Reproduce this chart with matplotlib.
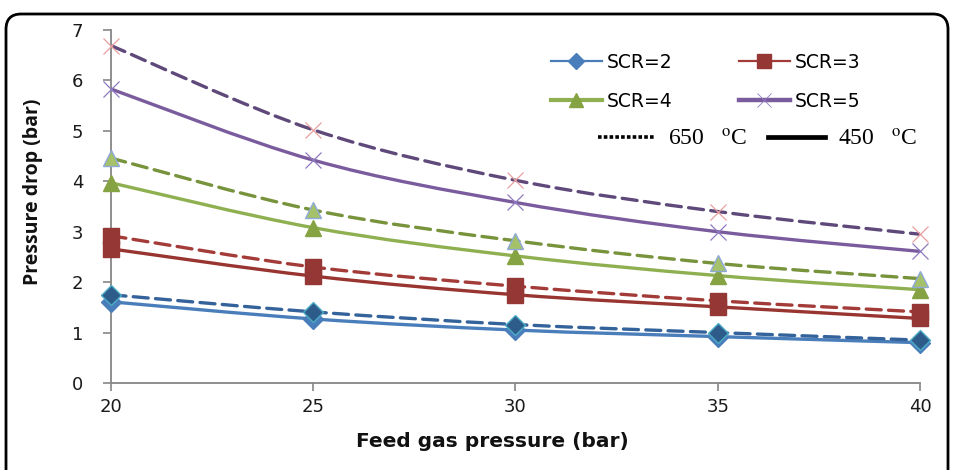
import matplotlib
matplotlib.use("Agg")
import matplotlib.pyplot as plt
from matplotlib.lines import Line2D
from matplotlib.patches import FancyBboxPatch, PathPatch
from matplotlib.path import Path

plt.rcParams["mathtext.fontset"] = "stix"

# Feed gas pressure (bar)
feed_pressure = [20, 25, 30, 35, 40]

# Pressure drop (bar) at 650 °C
scr2_650 = [1.75, 1.41, 1.16, 1.00, 0.85]
scr3_650 = [2.92, 2.30, 1.92, 1.63, 1.41]
scr4_650 = [4.46, 3.43, 2.82, 2.37, 2.07]
scr5_650 = [6.69, 5.02, 4.02, 3.40, 2.95]

# Pressure drop (bar) at 450 °C
scr2_450 = [1.61, 1.27, 1.05, 0.92, 0.80]
scr3_450 = [2.66, 2.12, 1.75, 1.51, 1.28]
scr4_450 = [3.97, 3.08, 2.52, 2.13, 1.85]
scr5_450 = [5.83, 4.42, 3.58, 3.00, 2.61]

y_ticks = [0, 1, 2, 3, 4, 5, 6, 7]
x_ticks = [20, 25, 30, 35, 40]

W, H = 954, 470
fig = plt.figure(figsize=(W / 100, H / 100), dpi=100)
ax = fig.add_axes([111 / W, 1 - 383 / H, (920 - 111) / W, (383 - 30) / H])


def smooth_path(xs, ys):
    """Cubic Bezier path through the points (spreadsheet-style smoothed line)."""
    pts = list(zip(xs, ys))
    n = len(pts)
    verts = [pts[0]]
    codes = [Path.MOVETO]
    for i in range(n - 1):
        p0 = pts[i - 1] if i > 0 else pts[i]
        p1 = pts[i]
        p2 = pts[i + 1]
        p3 = pts[i + 2] if i + 2 < n else pts[i + 1]
        c1 = (p1[0] + (p2[0] - p0[0]) / 6, p1[1] + (p2[1] - p0[1]) / 6)
        c2 = (p2[0] - (p3[0] - p1[0]) / 6, p2[1] - (p3[1] - p1[1]) / 6)
        verts += [c1, c2, p2]
        codes += [Path.CURVE4] * 3
    return Path(verts, codes)


dash = (0, (4.5, 2.2))
lw = 2.4
ms = 12

# (values, line colour, marker, marker face, marker edge, linestyle)
series = [
    (scr2_450, "#4A7EBB", "D", "#4A7EBB", "#4A7EBB", "-"),
    (scr2_650, "#34629A", "D", "#2E5C8A", "#4BACC6", dash),
    (scr3_450, "#983531", "s", "#953735", "#953735", "-"),
    (scr3_650, "#A33C38", "s", "#953735", "#953735", dash),
    (scr4_450, "#8FB051", "^", "#86A343", "#86A343", "-"),
    (scr4_650, "#77933C", "^", "#A5C26A", "#8EA9D8", dash),
    (scr5_450, "#7A5C9E", "x", "#8064A2", "#8F7AC0", "-"),
    (scr5_650, "#5F497A", "x", "#E8A0A0", "#E8A0A0", dash),
]

for vals, col, mk, mfc, mec, ls in series:
    ax.add_patch(PathPatch(smooth_path(feed_pressure, vals), fill=False,
                           edgecolor=col, lw=lw, linestyle=ls,
                           capstyle="round", zorder=2))
    if mk == "x":
        ax.plot(feed_pressure, vals, linestyle="none", marker=mk, ms=ms,
                mew=0.9, color=mec, zorder=3, clip_on=False)
    else:
        ax.plot(feed_pressure, vals, linestyle="none", marker=mk,
                ms=ms if mk != "D" else 10, mfc=mfc, mec=mec, mew=1.0,
                zorder=3, clip_on=False)

ax.set_xlim(20, 40)
ax.set_ylim(0, 7)
ax.set_xticks(x_ticks)
ax.set_yticks(y_ticks)
ax.tick_params(axis="both", direction="out", length=6, width=1.2,
               color="#868686", labelsize=13, labelcolor="#1a1a1a")
ax.tick_params(axis="x", pad=5)
ax.tick_params(axis="y", pad=14)
for s in ("top", "right"):
    ax.spines[s].set_visible(False)
for s in ("left", "bottom"):
    ax.spines[s].set_color("#868686")
    ax.spines[s].set_linewidth(1.3)

ax.set_xlabel("Feed gas pressure (bar)", fontsize=14.5, fontweight="bold",
              family="DejaVu Sans", color="#111111")
ax.xaxis.set_label_coords((492 - 111) / (920 - 111), -49 / 353)
ax.set_ylabel("Pressure drop (bar)", fontsize=14, fontweight="bold",
              family="Open Sans", color="#111111")
ax.yaxis.set_label_coords(-(111 - 43) / 809, (383 - 192) / 353)


def fig_pt(px, py):
    return (px / W, 1 - py / H)


# Series legend, one legend per column
col_a = [
    (Line2D([], [], color="#4A7EBB", lw=1.6, marker="D", ms=8,
            mfc="#4A7EBB", mec="#4A7EBB"), "SCR=2"),
    (Line2D([], [], color="#8FB051", lw=3.0, marker="^", ms=10,
            mfc="#86A343", mec="#86A343"), "SCR=4"),
]
col_b = [
    (Line2D([], [], color="#A33C38", lw=1.6, marker="s", ms=10,
            mfc="#953735", mec="#953735"), "SCR=3"),
    (Line2D([], [], color="#7A5C9E", lw=3.2, marker="x", ms=10, mew=0.6,
            mec="#8F7AC0"), "SCR=5"),
]
for entries, x0 in ((col_a, 551), (col_b, 739)):
    fig.legend([e[0] for e in entries], [e[1] for e in entries],
               loc="upper left", bbox_to_anchor=fig_pt(x0, 53),
               bbox_transform=fig.transFigure, frameon=False,
               fontsize=13.5, handlelength=2.7, handletextpad=0.3,
               labelspacing=1.05, borderpad=0, borderaxespad=0)

# Temperature legend
temp_entries = [
    (Line2D([], [], color="black", lw=2.6, linestyle=(0, (1.0, 0.6))),
     "650   $^{\\mathrm{o}}$C", 598),
    (Line2D([], [], color="black", lw=3.4, linestyle="-"),
     "450   $^{\\mathrm{o}}$C", 768),
]
for handle, label, x0 in temp_entries:
    fig.legend([handle], [label], loc="upper left",
               bbox_to_anchor=fig_pt(x0, 129), bbox_transform=fig.transFigure,
               frameon=False, prop={"family": "Liberation Serif", "size": 17},
               handlelength=2.4, handletextpad=0.55, borderpad=0,
               borderaxespad=0)

# Rounded frame around the chart
frame = FancyBboxPatch((6 / W, -20 / H), 942 / W, (H - 14 + 20) / H,
                       boxstyle="round,pad=0,rounding_size=0.016",
                       transform=fig.transFigure, fill=False, lw=2.0,
                       edgecolor="black", mutation_aspect=W / H)
fig.patches.append(frame)

fig.savefig("out.png", dpi=100)
